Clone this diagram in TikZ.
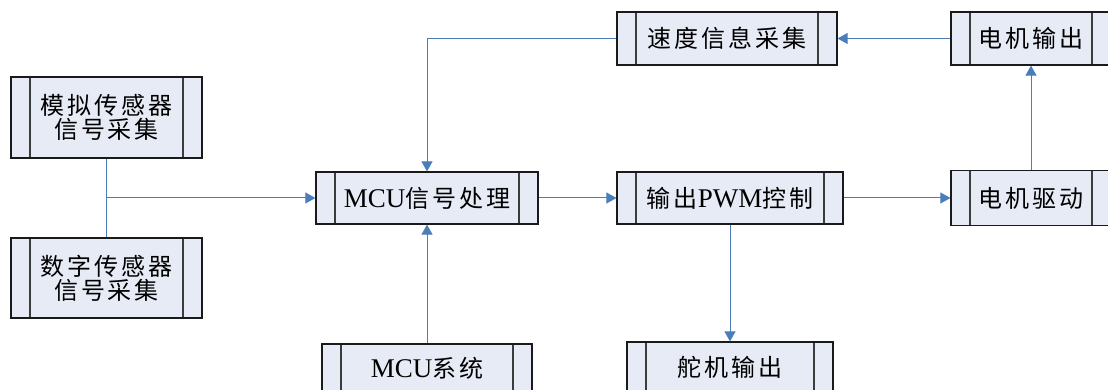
\documentclass[tikz,border=0pt]{standalone}
\usepackage{fontspec}
\newfontfamily\cjk[LetterSpace=12]{Noto Sans CJK SC}
\newfontfamily\tnr{Liberation Serif}
\usetikzlibrary{arrows.meta}
\definecolor{boxfill}{HTML}{E6EBF5}
\definecolor{linkblue}{HTML}{4A7EBB}
\definecolor{boxline}{HTML}{1A1A1A}
\newcommand{\lat}[1]{{\tnr\fontsize{27}{25}\selectfont #1}}
\tikzset{
  procbox/.style={draw=boxline, fill=boxfill, line width=1.2pt, rectangle, inner sep=0pt,
    align=center, font=\fontsize{24}{24}\selectfont\cjk,
    path picture={
      \draw[boxline!85, line width=1.2pt]
        ([xshift=19pt]path picture bounding box.north west) -- ([xshift=19pt]path picture bounding box.south west)
        ([xshift=-19pt]path picture bounding box.north east) -- ([xshift=-19pt]path picture bounding box.south east);
    }},
  link/.style={draw=linkblue, line width=1pt},
  arr/.style={link, -{Triangle[length=10pt,width=11pt]}}
}
\begin{document}
\begin{tikzpicture}[x=1pt,y=-1pt]
\useasboundingbox (0,0) rectangle (1108,390);
\clip (0,0) rectangle (1108,390);
\node[procbox, minimum width=191pt, minimum height=81pt] (A) at (106.5,117.5) {模拟传感器\\信号采集};
\node[procbox, minimum width=191pt, minimum height=80pt] (B) at (106.5,278) {数字传感器\\信号采集};
\node[procbox, minimum width=222pt, minimum height=52pt] (C) at (427,198) {\lat{MCU}信号处理};
\node[procbox, minimum width=220pt, minimum height=53pt] (D) at (727,38.5) {速度信息采集};
\node[procbox, minimum width=160pt, minimum height=53pt] (E) at (1031,38.5) {电机输出};
\node[procbox, minimum width=226pt, minimum height=52pt] (F) at (730,198) {输出\lat{PWM}控制};
\node[procbox, minimum width=160pt, minimum height=55pt] (G) at (1031,198) {电机驱动};
\node[procbox, minimum width=210pt, minimum height=60pt] (H) at (427,374) {\raisebox{13pt}{\lat{MCU}系统}};
\node[procbox, minimum width=206pt, minimum height=60pt] (I) at (730,372) {\raisebox{11pt}{舵机输出}};
\coordinate (j) at (A.south |- C.west);
\draw[link] (A.south) -- (B.north);
\draw[arr] (j) -- (C.west);
\draw[arr] (D.west) -| (C.north);
\draw[arr] (H.north) -- (C.south);
\draw[arr] (C.east) -- (F.west);
\draw[arr] (F.east) -- (G.west);
\draw[arr] (F.south) -- (I.north);
\draw[arr] (G.north) -- (E.south);
\draw[arr] (E.west) -- (D.east);
\end{tikzpicture}
\end{document}
